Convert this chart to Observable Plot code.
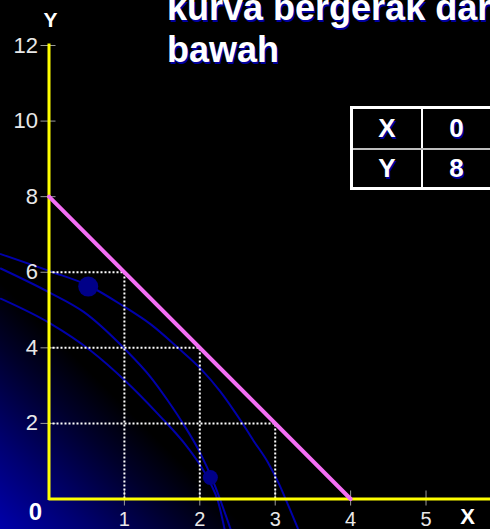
<!DOCTYPE html>
<html><head><meta charset="utf-8">
<script src="https://cdn.jsdelivr.net/npm/d3@7"></script>
<script src="https://cdn.jsdelivr.net/npm/@observablehq/plot@0.6"></script>
<style>
html,body{margin:0;padding:0;background:#000;}
#wrap{position:relative;width:490px;height:529px;overflow:hidden;
  background:linear-gradient(45deg,#0000aa 0px,#000072 60px,#00002c 128px,#000 175px);
  font-family:"Liberation Sans",Arial,sans-serif;}
#chart{position:absolute;left:0;top:0;}
#title{position:absolute;left:167px;top:-13.5px;font-size:36px;line-height:42px;font-weight:bold;color:#fff;white-space:nowrap;text-shadow:1.5px 1.5px 0 #0000a0;}
#tbl{position:absolute;left:350px;top:106px;width:143px;height:84px;border:3px solid #fff;box-sizing:border-box;background:#000;}
#tbl .vdiv{position:absolute;left:68px;top:0;width:2px;height:100%;background:#fff;}
#tbl .hdiv{position:absolute;left:0;top:39px;width:100%;height:2px;background:#bdbdbd;}
#tbl .cell{position:absolute;display:flex;align-items:center;justify-content:center;font-size:26px;font-weight:bold;color:#fff;text-shadow:1.5px 1.5px 0 #0000a0;}
</style></head>
<body>
<div id="wrap">
  <div id="chart"></div>
  <div id="title">kurva bergerak dari<br>bawah</div>
  <div id="tbl"><div class="vdiv"></div><div class="hdiv"></div></div>
</div>
<script>
// ---- data ----
const xTicks = [1, 2, 3, 4, 5];
const yTicks = [2, 4, 6, 8, 10, 12];
const originLabel = ["0"];
const xName = ["X"];
const yName = ["Y"];

const budgetX = [0, 4];
const budgetY = [8, 0];

const gridX = [1, 2, 3];
const gridY = [6, 4, 2];

const curveAX = [-0.64, 0.02, 0.52, 0.99, 1.35, 1.70, 2.01, 2.27, 2.55, 2.71, 2.90, 3.05, 3.18, 3.30];
const curveAY = [6.48, 6.02, 5.65, 5.10, 4.62, 4.02, 3.45, 2.85, 2.05, 1.55, 0.98, 0.40, -0.20, -0.78];
const curveBX = [-0.64, 0.02, 0.46, 1.00, 1.35, 1.57, 1.77, 2.01, 2.18, 2.41];
const curveBY = [6.10, 5.45, 4.95, 3.98, 3.22, 2.62, 2.02, 1.20, 0.45, -0.81];
const curveCX = [-0.64, 0.02, 0.55, 1.01, 1.44, 1.84, 2.01, 2.14, 2.24, 2.33];
const curveCY = [5.30, 4.64, 3.93, 3.13, 2.26, 1.36, 0.88, 0.42, -0.05, -0.81];

const dotX = [0.52, 2.14];
const dotY = [5.62, 0.57];
const dotR = [10, 7.5];

const tableRows = [["X", "0"], ["Y", "8"]];

// ---- build ----
const zip = (xs, ys) => xs.map((x, i) => ({x, y: ys[i]}));
const curves = [zip(curveAX, curveAY), zip(curveBX, curveBY), zip(curveCX, curveCY)];
const budget = zip(budgetX, budgetY);
const gridPts = zip(gridX, gridY);
const dots = dotX.map((x, i) => ({x, y: dotY[i], r: dotR[i]}));

const font = "Liberation Sans, Arial, sans-serif";

const chart = Plot.plot({
  width: 490, height: 529,
  marginLeft: 48.5, marginRight: 0, marginTop: 45, marginBottom: 30.5,
  x: {domain: [0, 5.855]},
  y: {domain: [0, 12]},
  r: {type: "identity"},
  style: {background: "transparent", fontFamily: font, overflow: "visible"},
  marks: [
    ...curves.map(c => Plot.line(c, {x: "x", y: "y", stroke: "#0000aa", strokeWidth: 2, curve: "monotone-x"})),
    Plot.dot(dots, {x: "x", y: "y", r: "r", fill: "#000088", stroke: "none"}),
    Plot.axisY({ticks: yTicks, tickSize: 15, dx: 7, tickPadding: 3, stroke: "#9a9a9a", fill: "#e8e8e8", fontSize: 22, label: null, tickFormat: d => String(d)}),
    Plot.axisX({ticks: xTicks, tickSize: 15, dy: -8, tickPadding: 5.5, stroke: "#9a9a9a", fill: "#e8e8e8", fontSize: 20, label: null, tickFormat: d => String(d)}),
    Plot.ruleY(gridPts, {y: "y", x1: 0, x2: "x", stroke: "#fff", strokeWidth: 2, strokeDasharray: "2,2"}),
    Plot.ruleX(gridPts, {x: "x", y1: 0, y2: "y", stroke: "#fff", strokeWidth: 2, strokeDasharray: "2,2"}),
    Plot.ruleX([0], {stroke: "#ffff00", strokeWidth: 3, strokeLinecap: "square"}),
    Plot.ruleY([0], {stroke: "#ffff00", strokeWidth: 3}),
    Plot.line(budget, {x: "x", y: "y", stroke: "#f46ef4", strokeWidth: 4}),
    Plot.text(originLabel, {text: d => d, frameAnchor: "bottom-left", textAnchor: "middle", lineAnchor: "middle", dx: -13.5, dy: 13, fill: "#fff", fontSize: 24, fontWeight: "bold"}),
    Plot.text(xName, {text: d => d, frameAnchor: "bottom-right", textAnchor: "middle", lineAnchor: "middle", dx: -23, dy: 18, fill: "#fff", fontSize: 22, fontWeight: "bold"}),
    Plot.text(yName, {text: d => d, frameAnchor: "top-left", textAnchor: "middle", lineAnchor: "middle", dx: 1.5, dy: -25, fill: "#fff", fontSize: 21, fontWeight: "bold"})
  ]
});
document.getElementById("chart").appendChild(chart);

// table
const tbl = document.getElementById("tbl");
const colL = [0, 70], colW = [68, 67];
const rowT = [0, 41], rowH = [39, 37];
tableRows.forEach((row, ri) => row.forEach((v, ci) => {
  const d = document.createElement("div");
  d.className = "cell";
  d.style.left = colL[ci] + "px"; d.style.width = colW[ci] + "px";
  d.style.top = rowT[ri] + "px"; d.style.height = rowH[ri] + "px";
  d.textContent = v;
  tbl.appendChild(d);
}));
</script>
</body></html>
